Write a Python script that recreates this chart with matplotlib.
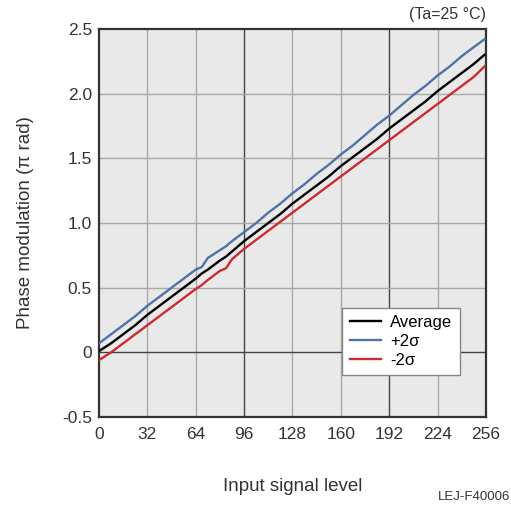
import numpy as np
import matplotlib.pyplot as plt

plt.rcParams['font.family'] = ['Liberation Sans', 'DejaVu Sans']

# input level (0-255)
level = [0, 8, 16, 24, 32, 40, 48, 56, 64, 68, 72, 80, 84, 88, 96, 104, 112, 120,
         128, 136, 144, 152, 160, 168, 176, 184, 192, 200, 208, 216, 224, 232, 240, 248, 255]

average = [0.01, 0.07, 0.14, 0.21, 0.29, 0.36, 0.43, 0.50, 0.57, 0.61, 0.64, 0.71, 0.74, 0.78,
           0.86, 0.93, 1.00, 1.07, 1.15, 1.22, 1.29, 1.36, 1.44, 1.51, 1.58, 1.65, 1.73,
           1.80, 1.87, 1.94, 2.02, 2.09, 2.16, 2.23, 2.30]

plus2s = [0.07, 0.14, 0.21, 0.28, 0.36, 0.43, 0.50, 0.57, 0.64, 0.66, 0.73, 0.79, 0.82, 0.86,
          0.93, 1.00, 1.08, 1.15, 1.23, 1.30, 1.38, 1.45, 1.53, 1.60, 1.68, 1.76, 1.83,
          1.91, 1.99, 2.06, 2.14, 2.21, 2.29, 2.36, 2.42]

minus2s = [-0.06, 0.00, 0.07, 0.14, 0.21, 0.28, 0.35, 0.42, 0.49, 0.52, 0.56, 0.63, 0.65, 0.72,
           0.80, 0.87, 0.94, 1.01, 1.08, 1.15, 1.22, 1.29, 1.36, 1.43, 1.50, 1.57, 1.64,
           1.71, 1.78, 1.85, 1.92, 1.99, 2.06, 2.13, 2.21]

xticks = [0, 32, 64, 96, 128, 160, 192, 224, 256]
yticks = [-0.5, 0, 0.5, 1.0, 1.5, 2.0, 2.5]
ylabels = ['-0.5', '0', '0.5', '1.0', '1.5', '2.0', '2.5']

fig = plt.figure(figsize=(5.11, 5.08), dpi=100)
ax = fig.add_axes([0.1937, 0.179, 0.7573, 0.764])
ax.set_facecolor('#e9e9e9')

ax.plot(level, average, color='black', lw=1.7, label='Average', zorder=5)
ax.plot(level, plus2s, color='#4f72a8', lw=1.7, label='+2σ', zorder=4)
ax.plot(level, minus2s, color='#cc2b32', lw=1.7, label='-2σ', zorder=4)

ax.set_xlim(0, 256)
ax.set_ylim(-0.5, 2.5)
ax.set_xticks(xticks)
ax.set_yticks(yticks)
ax.set_yticklabels(ylabels)
ax.tick_params(length=0, labelsize=12.5, colors='#333333')
ax.tick_params(axis='x', pad=7)
ax.tick_params(axis='y', pad=5)

for xv in xticks[1:-1]:
    c = '#444444' if xv in (96, 192) else '#a8a8a8'
    ax.axvline(xv, color=c, lw=1.0, zorder=1)
for yv in yticks[1:-1]:
    c = '#444444' if yv == 0 else '#a8a8a8'
    ax.axhline(yv, color=c, lw=1.0, zorder=1)

for s in ax.spines.values():
    s.set_color('#333333')
    s.set_linewidth(1.6)

ax.set_ylabel('Phase modulation (π rad)', fontsize=13.5, color='#333333', labelpad=20)
ax.set_xlabel('Input signal level', fontsize=13.5, color='#333333', labelpad=26)

leg = ax.legend(loc='lower right', bbox_to_anchor=(0.933, 0.108), fontsize=12,
                frameon=True, fancybox=False, handlelength=1.9, borderpad=0.45,
                labelspacing=0.22, handletextpad=0.55, borderaxespad=0)
leg.get_frame().set_edgecolor('#888888')
leg.get_frame().set_facecolor('white')
leg.get_frame().set_alpha(1)

fig.text(0.951, 0.972, '(Ta=25 °C)', ha='right', va='center', fontsize=11.5, color='#333333')
fig.text(0.998, 0.022, 'LEJ-F40006', ha='right', va='center', fontsize=9.5, color='#333333')

fig.savefig('out.png', dpi=100)
